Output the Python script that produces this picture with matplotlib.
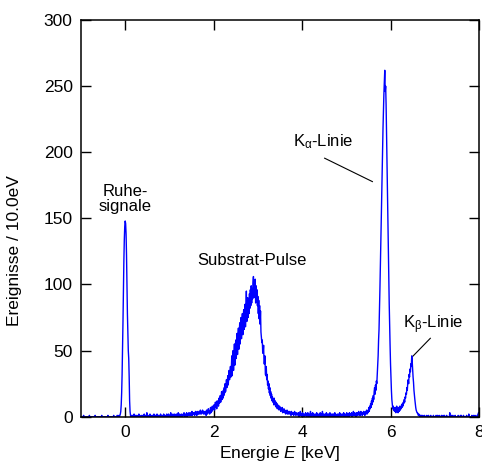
import numpy as np
import matplotlib.pyplot as plt

plt.rcParams['font.family'] = ['Liberation Sans', 'DejaVu Sans']
plt.rcParams['mathtext.fontset'] = 'custom'
plt.rcParams['mathtext.rm'] = 'Liberation Sans'
plt.rcParams['mathtext.it'] = 'Liberation Sans:italic'

# energy spectrum, 10 eV bins, counts
bin_width = 0.01  # keV

# baseline left of the rest peak, starts at -1.00 keV
counts_left = [0, 0, 0, 0, 0, 0, 1, 0, 0, 0,
               0, 0, 0, 0, 0, 0, 0, 0, 0, 1,
               0, 0, 0, 0, 0, 0, 0, 0, 0, 0,
               0, 0, 1, 0, 0, 0, 0, 0, 0, 0,
               0, 0, 0, 0, 0, 0, 0, 1, 0, 0,
               0, 0, 0, 0, 0, 0, 0, 0, 0, 0,
               0, 1, 0, 0, 0, 0, 0, 0, 0, 0,
               0, 0, 0, 0, 1, 0, 0, 0, 0, 0,
               0, 0, 1, 0, 0]

# rest signal peak, starts at -0.15 keV
counts_rest = [0, 1, 0, 1, 2, 4, 9, 18, 32, 50, 72, 96, 118, 134, 144, 148,
               146, 138, 122, 100, 78, 62, 50, 44, 30, 12, 4, 1, 0, 1, 0]

# baseline between rest peak and substrate pulses, starts at 0.16 keV
counts_low = [0, 1, 0, 0, 2, 1, 0, 1, 0, 0,
              1, 0, 0, 1, 0, 2, 0, 1, 0, 0,
              0, 1, 0, 0, 1, 0, 0, 2, 0, 1,
              0, 0, 1, 3, 0, 1, 0, 0, 1, 0,
              2, 0, 1, 0, 0, 1, 0, 1, 0, 2,
              0, 1, 0, 1, 0, 0, 2, 0, 1, 0,
              1, 0, 0, 1, 2, 0, 1, 0, 0, 1,
              0, 2, 0, 1, 0, 1, 0, 0, 2, 1,
              0, 1, 2, 0, 1, 0, 1, 3, 0, 1,
              1, 0, 2, 1, 0, 1, 2, 0, 1, 0,
              2, 1, 0, 1, 3, 1, 0, 2, 1, 1,
              0, 2, 1, 1, 0, 2, 1, 3, 1, 0,
              2, 1, 1, 3, 0, 2, 1, 2, 3, 1,
              1, 3, 2, 1, 2, 4, 1, 2, 3, 2,
              3, 1, 2, 4, 2, 3, 1, 4, 2, 3,
              2, 4, 3, 2, 5, 3, 2, 4, 3, 5,
              3, 2, 4, 3]

# substrate pulses, starts at 1.80 keV
counts_substrate = [2, 4, 3, 1, 5, 3, 2, 4, 6, 3,
                    4, 2, 5, 7, 3, 6, 4, 8, 5, 7,
                    6, 9, 5, 8, 11, 7, 10, 6, 12, 9,
                    11, 8, 14, 10, 13, 16, 11, 15, 19, 13,
                    17, 14, 20, 16, 22, 18, 25, 19, 23, 28,
                    22, 27, 31, 24, 30, 35, 28, 33, 38, 30,
                    36, 46, 31, 42, 50, 35, 47, 55, 39, 52,
                    58, 44, 56, 63, 47, 60, 67, 51, 64, 71,
                    55, 68, 75, 59, 72, 78, 62, 76, 81, 66,
                    78, 85, 68, 82, 95, 72, 86, 90, 75, 88,
                    78, 93, 82, 96, 84, 99, 86, 97, 89, 101,
                    106, 90, 102, 93, 104, 86, 99, 88, 96, 84,
                    91, 78, 88, 74, 84, 70, 80, 64, 60, 56,
                    58, 48, 49, 54, 40, 40, 46, 32, 31, 38,
                    28, 32, 24, 27, 21, 25, 18, 22, 16, 19,
                    14, 17, 12, 15, 11, 13, 9, 14, 10, 12,
                    8, 11, 7, 10, 6, 9, 7, 8, 5, 8,
                    6, 7, 4, 6, 5, 7, 3, 5, 4, 6,
                    3, 5, 4, 2, 4, 3, 5, 2, 3, 4,
                    2, 3, 4, 2, 3, 1, 4, 2, 3, 2,
                    3, 1, 2, 4, 2, 3, 1, 2, 3, 2]

# baseline between substrate pulses and K lines, starts at 3.90 keV
counts_mid = [2, 1, 3, 0, 2, 1, 4, 1, 2, 0,
              1, 3, 0, 2, 1, 0, 2, 1, 3, 1,
              0, 2, 1, 3, 0, 1, 2, 0, 1, 4,
              1, 0, 2, 1, 3, 0, 1, 2, 0, 1,
              2, 1, 0, 3, 1, 2, 0, 1, 2, 0,
              1, 3, 0, 1, 2, 0, 4, 1, 0, 2,
              0, 1, 2, 1, 0, 3, 1, 0, 2, 1,
              2, 0, 1, 3, 0, 1, 2, 1, 0, 2,
              1, 2, 0, 1, 3, 0, 2, 1, 1, 0,
              2, 1, 0, 2, 1, 3, 0, 1, 2, 1,
              0, 2, 1, 1, 3, 0, 2, 1, 0, 2,
              1, 3, 0, 2, 1, 2, 0, 3, 1, 2,
              2, 1, 3, 0, 2, 1, 4, 2, 1, 3,
              1, 2, 0, 3, 2, 1, 3, 2, 4, 1,
              3, 2, 1, 4, 2, 3, 1, 3, 2, 4]

# K-alpha and K-beta lines, starts at 5.40 keV
counts_k = [2, 3, 1, 4, 2, 3, 5, 2, 4, 3,
            5, 7, 4, 8, 6, 10, 7, 12, 9, 14,
            11, 16, 13, 19, 22, 17, 24, 20, 27, 25,
            32, 38, 46, 58, 66, 80, 96, 112, 130, 148,
            166, 184, 202, 218, 232, 244, 254, 262, 246, 250,
            236, 214, 192, 170, 148, 126, 106, 86, 68, 54,
            40, 30, 20, 13, 9, 6, 8, 5, 7, 4,
            4, 7, 3, 6, 8, 4, 6, 3, 7, 5,
            4, 8, 5, 7, 6, 9, 7, 10, 8, 11,
            10, 13, 11, 15, 14, 18, 17, 22, 20, 26,
            28, 25, 32, 30, 36, 34, 40, 38, 46, 42,
            36, 30, 26, 20, 16, 13, 10, 7, 5, 4,
            3, 3, 2, 1, 2, 1, 0, 1, 1, 0,
            1, 0, 0, 1, 0, 0, 0, 1, 0, 0]

# baseline right of the K lines, starts at 6.80 keV
counts_right = [0, 0, 1, 0, 0, 0, 1, 0, 0, 0,
                0, 1, 0, 0, 0, 0, 0, 1, 0, 0,
                0, 0, 0, 1, 0, 0, 1, 0, 0, 0,
                1, 0, 0, 0, 0, 1, 0, 0, 0, 1,
                0, 0, 1, 0, 0, 0, 0, 1, 0, 0,
                0, 0, 0, 0, 3, 0, 0, 0, 1, 0,
                0, 1, 0, 0, 0, 0, 1, 0, 0, 0,
                0, 0, 0, 1, 0, 0, 0, 0, 1, 0,
                1, 0, 0, 0, 0, 1, 0, 0, 0, 0,
                0, 0, 1, 0, 0, 0, 0, 2, 0, 0,
                0, 0, 0, 0, 1, 0, 0, 0, 1, 0,
                0, 1, 0, 0, 0, 0, 1, 0, 2, 3]

segment_starts = [-1.00, -0.15, 0.16, 1.80, 3.90, 5.40, 6.80]
segments = [counts_left, counts_rest, counts_low, counts_substrate,
            counts_mid, counts_k, counts_right]

energy = np.concatenate([s + bin_width * np.arange(len(c))
                         for s, c in zip(segment_starts, segments)])
counts = np.concatenate([np.array(c, dtype=float) for c in segments])

fig = plt.figure(figsize=(4.82, 4.70), dpi=100)
ax = fig.add_axes([0.168, 0.1134, 0.8257, 0.8440])

ax.plot(energy, counts, color='#0000ff', lw=1.0)

# labels for the peaks
ax.text(0.0, 165, 'Ruhe-\nsignale', ha='center', va='center', fontsize=12, linespacing=1.0)
ax.text(2.87, 118.5, 'Substrat-Pulse', ha='center', va='center', fontsize=12)
ax.text(4.48, 208, r'K$_\mathrm{\alpha}$-Linie', ha='center', va='center', fontsize=12)
ax.text(6.96, 69.4, r'K$_\mathrm{\beta}$-Linie', ha='center', va='center', fontsize=12)
ax.plot([4.51, 5.59], [195.5, 177.8], color='black', lw=0.8)
ax.plot([6.90, 6.51], [59.3, 45.9], color='black', lw=0.8)

ax.set_xlim(-1, 8)
ax.set_ylim(0, 300)
ax.set_xticks([0, 2, 4, 6, 8])
ax.set_yticks([0, 50, 100, 150, 200, 250, 300])
ax.tick_params(direction='in', length=7, width=1, labelsize=12.5,
               top=True, right=True, pad=6)
for sp in ax.spines.values():
    sp.set_linewidth(1.1)

ax.set_xlabel(r'Energie $E$ [keV]', fontsize=12.5, labelpad=3)
ax.set_ylabel('Ereignisse / 10.0eV', fontsize=12.5)
ax.yaxis.set_label_coords(-0.148, 0.42)

plt.savefig('out.png', dpi=100)
